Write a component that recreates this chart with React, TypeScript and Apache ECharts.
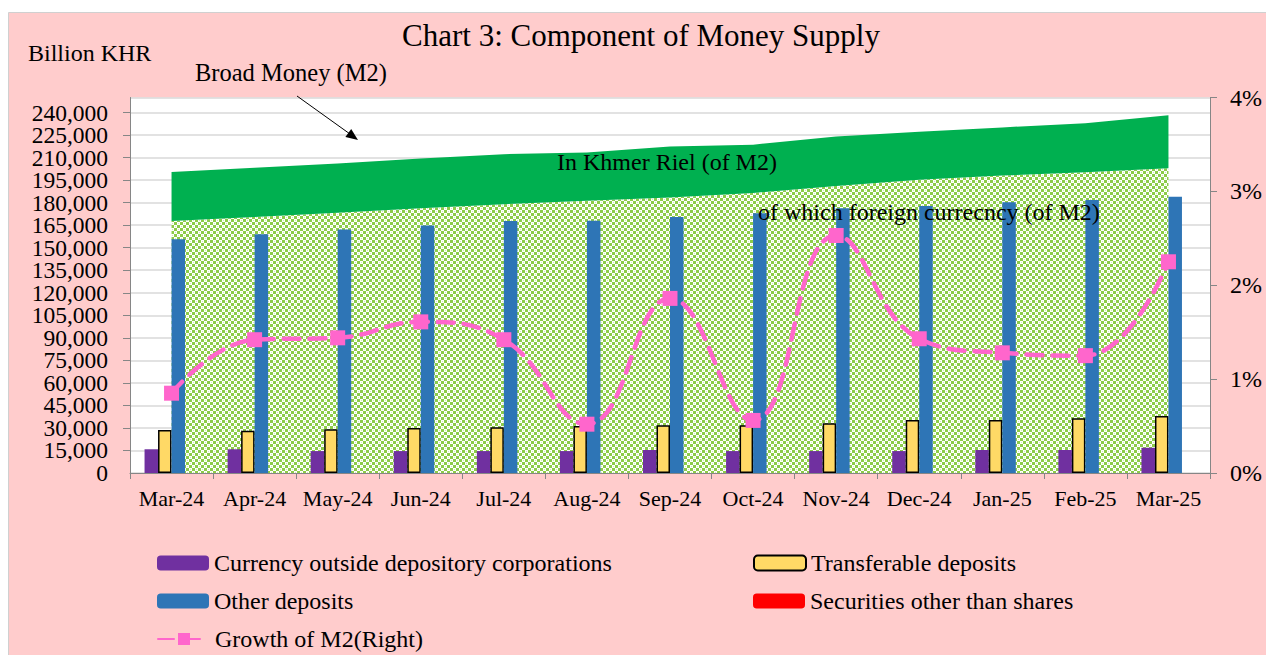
import React, { useEffect, useRef } from "react";
import * as echarts from "echarts";

const categories = ["Mar-24", "Apr-24", "May-24", "Jun-24", "Jul-24", "Aug-24", "Sep-24", "Oct-24", "Nov-24", "Dec-24", "Jan-25", "Feb-25", "Mar-25"];

// Billion KHR
const currencyOutside = [15800, 15800, 14600, 14600, 14600, 14600, 15300, 14600, 14600, 14600, 15300, 15300, 16800];
const transferableDeposits = [28600, 28200, 29100, 30000, 30400, 31300, 31800, 31800, 33100, 35300, 35300, 36400, 37900];
const otherDeposits = [155600, 158900, 162200, 164700, 167800, 168000, 170400, 172900, 176200, 177800, 180200, 181800, 184000];
const securitiesOtherThanShares = [0, 0, 0, 0, 0, 0, 0, 0, 0, 0, 0, 0, 0];

// Broad money (M2) split: foreign currency part and Khmer Riel part (stacked areas)
const m2ForeignCurrency = [167800, 170500, 173300, 176300, 178900, 181300, 183500, 186500, 191000, 195300, 198000, 200300, 202900];
const m2KhmerRiel = [32600, 32700, 32800, 33100, 33400, 32100, 33900, 32100, 33100, 31900, 32100, 32600, 35300];

// Growth of M2 (%), right axis
const m2Growth = [0.85, 1.42, 1.44, 1.61, 1.42, 0.52, 1.86, 0.56, 2.53, 1.43, 1.28, 1.25, 2.25];

const leftTicksMax = 250000;
const leftInterval = 15000;
const rightTicks = { min: 0, max: 4, interval: 1 };

const FONT = "Liberation Serif, Times New Roman, serif";

export default function App() {
  const ref = useRef<HTMLDivElement>(null);

  useEffect(() => {
    if (!ref.current) return;
    const chart = echarts.init(ref.current, null, { renderer: "svg" });

    const cvs = document.createElement("canvas");
    cvs.width = 6;
    cvs.height = 6;
    const ctx = cvs.getContext("2d")!;
    ctx.fillStyle = "#ffffff";
    ctx.fillRect(0, 0, 6, 6);
    ctx.fillStyle = "#d3ebb6";
    ctx.fillRect(4, 1, 1, 1);
    ctx.fillRect(1, 4, 1, 1);
    ctx.fillStyle = "#8ccc48";
    ctx.fillRect(0, 0, 3, 3);
    ctx.fillRect(3, 3, 3, 3);
    const pattern: any = { image: cvs, repeat: "repeat", imageWidth: 6, imageHeight: 6 };

    const legendText = { fontFamily: FONT, fontSize: 24, color: "#000", lineHeight: 24 };
    const mkLegend = (left: number, top: number, name: string) => ({
      left,
      top,
      padding: 0,
      orient: "horizontal",
      itemWidth: 52,
      itemHeight: 15,
      itemGap: 6,
      selectedMode: false,
      textStyle: legendText,
      data: [name],
    });

    const leftLabel = { fontFamily: FONT, fontSize: 23.5, color: "#000", margin: 22 };

    const option: any = {
      animation: false,
      backgroundColor: "#ffffff",
      textStyle: { fontFamily: FONT },
      grid: {
        left: 130,
        right: 56,
        top: 97.5,
        bottom: 182,
        show: true,
        backgroundColor: "#ffffff",
        borderWidth: 0,
      },
      legend: [
        mkLegend(157, 551, "Currency outside depository corporations"),
        mkLegend(157, 589, "Other deposits"),
        mkLegend(157, 627, "Growth of M2(Right)"),
        mkLegend(753, 551, "Transferable deposits"),
        mkLegend(753, 589, "Securities other than shares"),
      ],
      xAxis: {
        type: "category",
        data: categories,
        boundaryGap: true,
        axisLine: { lineStyle: { color: "#868686", width: 1 } },
        axisTick: { show: true, length: 6, lineStyle: { color: "#868686" } },
        axisLabel: { fontFamily: FONT, fontSize: 22, color: "#000", margin: 14, interval: 0 },
        splitLine: { show: false },
      },
      yAxis: [
        {
          type: "value",
          min: 0,
          max: leftTicksMax,
          interval: leftInterval,
          axisLine: { show: true, lineStyle: { color: "#868686" } },
          axisTick: { show: true, length: 7, lineStyle: { color: "#868686" } },
          axisLabel: {
            ...leftLabel,
            showMinLabel: false,
            showMaxLabel: false,
            formatter: (v: number) => (v > 240000 ? "" : v.toLocaleString("en-US")),
          },
          splitLine: { show: true, lineStyle: { color: "#d9d9d9", width: 1.5 } },
        },
        {
          type: "value",
          min: rightTicks.min,
          max: rightTicks.max,
          interval: rightTicks.interval,
          position: "right",
          axisLine: { show: true, lineStyle: { color: "#868686" } },
          axisTick: { show: true, length: 7, lineStyle: { color: "#868686" } },
          axisLabel: { fontFamily: FONT, fontSize: 24, color: "#000", margin: 20, formatter: "{value}%", showMinLabel: true, showMaxLabel: true },
          splitLine: { show: false },
        },
        {
          // carries only the "0" label of the left axis
          type: "value",
          min: 0,
          max: leftTicksMax,
          interval: leftTicksMax,
          position: "left",
          offset: 0,
          axisLine: { show: false },
          axisTick: { show: false },
          splitLine: { show: false },
          axisLabel: {
            ...leftLabel,
            showMinLabel: true,
            showMaxLabel: false,
            formatter: (v: number) => (v === 0 ? "0" : ""),
          },
        },
      ],
      series: [
        {
          name: "of which foreign currency (of M2)",
          type: "line",
          stack: "m2",
          data: m2ForeignCurrency,
          symbol: "none",
          lineStyle: { width: 0 },
          areaStyle: { color: pattern, opacity: 1 },
          silent: true,
          z: 1,
        },
        {
          name: "In Khmer Riel (of M2)",
          type: "line",
          stack: "m2",
          data: m2KhmerRiel,
          symbol: "none",
          lineStyle: { width: 0 },
          areaStyle: { color: "#00B050", opacity: 1 },
          silent: true,
          z: 1,
        },
        {
          name: "Currency outside depository corporations",
          type: "bar",
          data: currencyOutside,
          barWidth: 13.5,
          barGap: "0%",
          itemStyle: { color: "#7030A0" },
          z: 3,
        },
        {
          name: "Transferable deposits",
          type: "bar",
          data: transferableDeposits,
          barWidth: 13.5,
          barGap: "0%",
          itemStyle: { color: "#FFD966", borderColor: "#000", borderWidth: 1.5 },
          z: 3,
        },
        {
          name: "Other deposits",
          type: "bar",
          data: otherDeposits,
          barWidth: 13.5,
          barGap: "0%",
          itemStyle: { color: "#2E75B6" },
          z: 3,
        },
        {
          name: "Securities other than shares",
          type: "bar",
          data: securitiesOtherThanShares,
          barWidth: 13.5,
          barGap: "0%",
          itemStyle: { color: "#FF0000" },
          z: 3,
        },
        {
          name: "Growth of M2(Right)",
          type: "line",
          yAxisIndex: 1,
          data: m2Growth,
          smooth: 0.45,
          symbol: "rect",
          symbolSize: 15,
          itemStyle: { color: "#FF66CC" },
          lineStyle: { color: "#FF66CC", width: 4.5, type: [16, 10], cap: "round" },
          z: 5,
        },
      ],
      graphic: [
        {
          type: "rect",
          z: -10,
          silent: true,
          shape: { x: 8.5, y: 12.5, width: 1270, height: 660 },
          style: { fill: "#FFCCCC", stroke: "#d0d0d0", lineWidth: 1 },
        },
        {
          type: "text",
          z: 100,
          x: 641,
          y: 35,
          style: { text: "Chart 3: Component of Money Supply", fontFamily: FONT, fontSize: 31, fill: "#000", textAlign: "center", textVerticalAlign: "middle" },
        },
        {
          type: "text",
          z: 100,
          x: 28,
          y: 53,
          style: { text: "Billion KHR", fontFamily: FONT, fontSize: 24, fill: "#000", textAlign: "left", textVerticalAlign: "middle" },
        },
        {
          type: "text",
          z: 100,
          x: 195,
          y: 72,
          style: { text: "Broad Money (M2)", fontFamily: FONT, fontSize: 24.5, fill: "#000", textAlign: "left", textVerticalAlign: "middle" },
        },
        {
          type: "line",
          z: 100,
          shape: { x1: 297, y1: 96, x2: 350, y2: 134 },
          style: { stroke: "#000", lineWidth: 1 },
        },
        {
          type: "polygon",
          z: 100,
          shape: { points: [[358, 140], [345.4, 137.1], [351.2, 128.9]] },
          style: { fill: "#000" },
        },
        {
          type: "text",
          z: 100,
          x: 557,
          y: 161.5,
          style: { text: "In Khmer Riel (of M2)", fontFamily: FONT, fontSize: 24, fill: "#000", textAlign: "left", textVerticalAlign: "middle" },
        },
        {
          type: "text",
          z: 100,
          x: 758,
          y: 212,
          style: { text: "of which foreign currecncy (of M2)", fontFamily: FONT, fontSize: 24, fill: "#000", textAlign: "left", textVerticalAlign: "middle" },
        },
      ],
    };

    chart.setOption(option);
    return () => {
      chart.dispose();
    };
  }, []);

  return <div ref={ref} style={{ position: "fixed", left: 0, top: 0, width: 1266, height: 655 }} />;
}
